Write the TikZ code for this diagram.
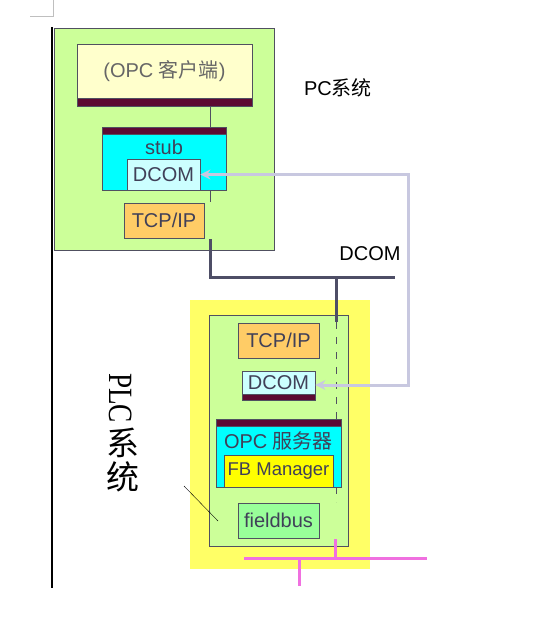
\documentclass[tikz,border=0pt]{standalone}
\usepackage{fontspec}
\setmainfont{Liberation Sans}
\newfontfamily\cjk{Noto Sans CJK SC}
\newfontfamily\plcserif{Liberation Serif}
\usetikzlibrary{arrows.meta}
\definecolor{pcgreen}{HTML}{CCFF99}
\definecolor{clientyellow}{HTML}{FFFFCC}
\definecolor{stubcyan}{HTML}{00FFFF}
\definecolor{dcomcyan}{HTML}{CCFFFF}
\definecolor{tcporange}{HTML}{FFCC66}
\definecolor{plcyellow}{HTML}{FFFF66}
\definecolor{fbyellow}{HTML}{FFFF00}
\definecolor{fieldgreen}{HTML}{99FF99}
\definecolor{barmaroon}{HTML}{5C0A32}
\definecolor{edgegray}{HTML}{505060}
\definecolor{txtgray}{HTML}{404058}
\definecolor{buslav}{HTML}{C8C8E0}
\definecolor{busdark}{HTML}{4E4E66}
\definecolor{buspink}{HTML}{F070E0}

\begin{document}
\begin{tikzpicture}[x=1pt,y=-1pt,
    blk/.style={draw=edgegray,line width=0.8pt,inner sep=0pt,text=txtgray,
      font=\fontsize{20}{22}\selectfont},
    bar/.style={draw=edgegray,line width=0.5pt,fill=barmaroon,inner sep=0pt},
    wire/.style={edgegray,line width=0.8pt},
    lbl/.style={inner sep=0pt,text=txtgray,font=\fontsize{20}{22}\selectfont}]
  \useasboundingbox (0,0) rectangle (545,638);
  % page marks
  \draw [gray!50,line width=0.6pt] (30,16) -- (53,16) -- (53,0);
  \draw [black,line width=2pt] (52,27) -- (52,588);

  % PC side
  \node[blk,fill=pcgreen,minimum width=220pt,minimum height=222pt] (pcsys) at (164,139) {};
  \node[blk,fill=clientyellow,text=gray!80!black,minimum width=175pt,minimum height=54pt] (client) at (164.5,71) {(OPC {\cjk 客户端})};
  \node[bar,minimum width=175pt,minimum height=8pt] (clientbar) at (164.5,102) {};
  \draw [wire] ([xshift=46pt]clientbar.south) -- ([xshift=46pt]clientbar.south |- 0,127);
  \node[blk,fill=stubcyan,minimum width=124pt,minimum height=63pt] (stub) at (164,158.5) {};
  \node[bar,minimum width=124pt,minimum height=7pt] (stubbar) at (164,130.5) {};
  \node[lbl] (stubtxt) at (164,147) {stub};
  \node[blk,fill=dcomcyan,minimum width=73pt,minimum height=31pt] (dcomA) at (163.5,174.5) {DCOM};
  \draw [wire] ([xshift=46pt]stub.south) -- ++(0,12);
  \node[blk,fill=tcporange,minimum width=80pt,minimum height=35pt] (tcpA) at (164,220.5) {TCP/IP};
  \node[inner sep=0pt,font=\fontsize{20}{22}\selectfont] (pclbl) at (338,88) {PC{\cjk 系统}};
  \node[inner sep=0pt,font=\fontsize{20}{22}\selectfont] (dcomlbl) at (370,254) {DCOM};

  % PLC side
  \node[fill=plcyellow,inner sep=0pt,minimum width=180pt,minimum height=269pt] (plc) at (280,434.5) {};
  \node[blk,fill=pcgreen,minimum width=139pt,minimum height=231pt] (plcin) at (278.5,430.5) {};
  \draw [wire,dash pattern=on 7pt off 8pt] (336,322) -- (336,502);
  \node[blk,fill=tcporange,minimum width=81pt,minimum height=35pt] (tcpB) at (278.5,340.5) {TCP/IP};
  \node[blk,fill=dcomcyan,minimum width=73pt,minimum height=23pt] (dcomB) at (278.5,382.5) {DCOM};
  \node[bar,minimum width=73pt,minimum height=6pt] (dcomBbar) at (278.5,397) {};
  \node[blk,fill=stubcyan,minimum width=125pt,minimum height=68pt] (server) at (278.5,453) {};
  \node[bar,minimum width=125pt,minimum height=7pt] (serverbar) at (278.5,422.5) {};
  \node[lbl] (servertxt) at (278.5,441) {OPC {\cjk 服务器}};
  \node[blk,fill=fbyellow,minimum width=109pt,minimum height=32pt,font=\fontsize{18.5}{22}\selectfont] (fbm) at (278.5,471) {FB Manager};
  \node[blk,fill=fieldgreen,minimum width=81pt,minimum height=35pt] (fieldbus) at (278.5,520.5) {fieldbus};

  % PLC label
  \node[inner sep=0pt,rotate=-90,font=\plcserif\fontsize{34}{34}\selectfont] (plclbl) at (121,398) {\scalebox{0.8}[1]{PLC}};
  \node[inner sep=0pt,font=\cjk\fontsize{33}{33}\selectfont] (plcxi) at (123,443) {系};
  \node[inner sep=0pt,font=\cjk\fontsize{33}{33}\selectfont] (plctong) at (123,477) {统};
  \coordinate (leadA) at (184,486);
  \coordinate (leadB) at (218,521);
  \draw [black,line width=0.4pt] (leadA) -- (leadB);

  % DCOM bus
  \coordinate (busA) at (210,239);
  \coordinate (busEnd) at (395,277);
  \coordinate (busTap) at (336,277);
  \coordinate (busDrop) at (336,322);
  \draw [busdark,line width=3pt] (busA) |- (busEnd);
  \draw [busdark,line width=3pt] (busTap) -- (busDrop);

  % DCOM link
  \coordinate (turn) at (408,385);
  \draw [buslav,line width=3pt,{Stealth[length=10pt,width=10pt]}-{Stealth[length=10pt,width=10pt]}] (dcomA.east) -| (turn) -- (dcomB.east |- turn);

  % fieldbus
  \coordinate (fbL) at (244,558);
  \coordinate (fbR) at (427,558);
  \coordinate (fbTap) at (335,539);
  \coordinate (fbDrop) at (299,586);
  \draw [buspink,line width=3pt] (fbL) -- (fbR);
  \draw [buspink,line width=3pt] (fbTap) -- (fbTap |- fbL);
  \draw [buspink,line width=3pt] (fbDrop |- fbL) -- (fbDrop);
\end{tikzpicture}
\end{document}
